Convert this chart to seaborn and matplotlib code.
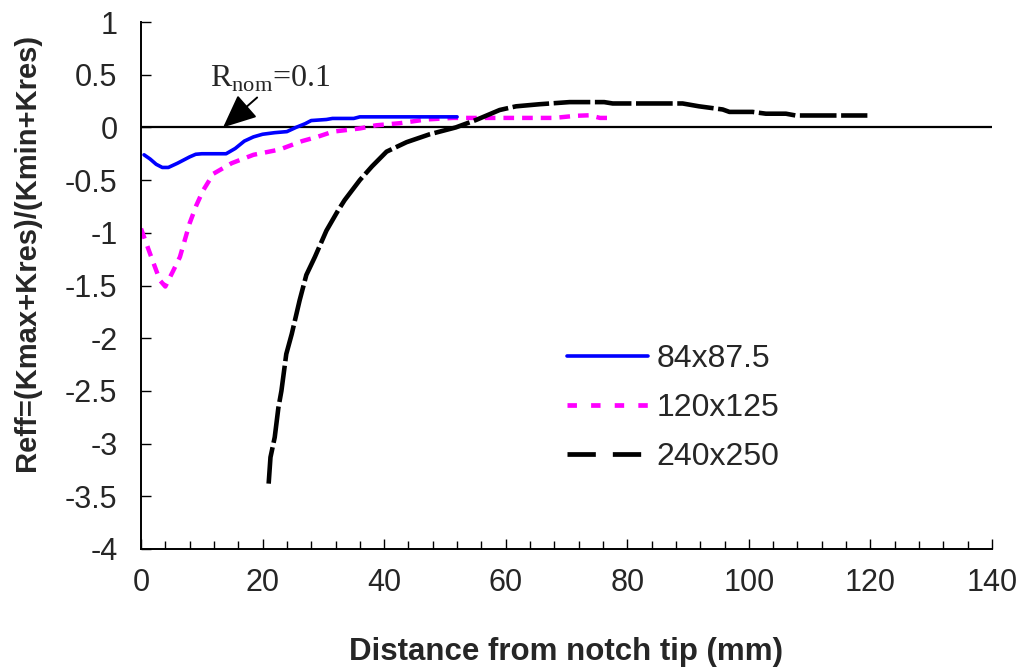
import matplotlib
matplotlib.use("Agg")
import matplotlib.pyplot as plt
from matplotlib.ticker import MultipleLocator, FormatStrFormatter
from matplotlib.lines import Line2D
import seaborn as sns
import pandas as pd

# ---- data ----
blue_x = [0.5, 1.5, 2.5, 3.5, 4.5, 6, 7, 8, 9, 10, 12, 14, 15.5, 17, 18.5, 20, 22, 24,
          25.5, 27, 28, 30.5, 31.5, 35, 36, 40, 45, 52]
blue_y = [-0.26, -0.30, -0.35, -0.38, -0.38, -0.34, -0.31, -0.28, -0.255, -0.25, -0.25,
          -0.25, -0.20, -0.13, -0.09, -0.065, -0.05, -0.04, 0.0, 0.035, 0.065, 0.075,
          0.085, 0.085, 0.10, 0.10, 0.10, 0.10]

mag_x = [0, 1.5, 3.1, 4.0, 5.3, 6.4, 7.2, 8.0, 9.1, 10.2, 11.9, 14.9, 18.5, 22.8, 26.5,
         29, 31.6, 36, 38.7, 42.6, 46.9, 51.3, 61.7, 68, 71.5, 73.8, 75.5, 77.3]
mag_y = [-0.96, -1.20, -1.45, -1.51, -1.36, -1.23, -1.07, -0.91, -0.74, -0.60, -0.44,
         -0.34, -0.26, -0.21, -0.13, -0.09, -0.04, -0.01, 0.02, 0.04, 0.075, 0.09, 0.09,
         0.09, 0.11, 0.115, 0.09, 0.09]

blk_x = [21.0, 21.3, 22.0, 22.6, 23.1, 23.9, 24.8, 26.1, 27.2, 28.6, 30.5, 32.4, 33.5,
         36, 38, 40.4, 43.7, 47.5, 51.8, 55.1, 59, 61.7, 65.6, 70.5, 76.2, 77.6, 89.1,
         91.8, 95.7, 96.8, 100.6, 102.8, 106.1, 107.7, 119.5]
blk_y = [-3.38, -3.13, -2.94, -2.66, -2.50, -2.15, -1.96, -1.64, -1.40, -1.23, -0.98,
         -0.79, -0.69, -0.50, -0.37, -0.23, -0.14, -0.065, 0.0, 0.07, 0.165, 0.20, 0.22,
         0.24, 0.24, 0.227, 0.227, 0.20, 0.17, 0.147, 0.147, 0.13, 0.13, 0.113, 0.113]

labels = ["84x87.5", "120x125", "240x250"]
x_ticks = [0, 20, 40, 60, 80, 100, 120, 140]
y_ticks = [-4, -3.5, -3, -2.5, -2, -1.5, -1, -0.5, 0, 0.5, 1]
r_nom_text = r"R$_{\mathrm{nom}}$=0.1"

# ---- style ----
sns.set_style("ticks")
plt.rcParams["font.family"] = ["Liberation Sans", "DejaVu Sans"]
plt.rcParams["axes.unicode_minus"] = False
plt.rcParams["mathtext.fontset"] = "custom"
plt.rcParams["mathtext.rm"] = "Liberation Serif"

fig = plt.figure(figsize=(10.21, 6.70), dpi=100)
W, H = 1021, 670
L, R, T, B = 141, 992, 22, 549
ax = fig.add_axes([L / W, 1 - B / H, (R - L) / W, (B - T) / H])

df_b = pd.DataFrame({"x": blue_x, "y": blue_y})
df_m = pd.DataFrame({"x": mag_x, "y": mag_y})
df_k = pd.DataFrame({"x": blk_x, "y": blk_y})

ax.axhline(0, color="black", lw=1.6, zorder=1)

sns.lineplot(data=df_b, x="x", y="y", ax=ax, color="#0000FF", lw=2.6,
             sort=False, estimator=None, zorder=3)
sns.lineplot(data=df_m, x="x", y="y", ax=ax, color="#FF00FF", lw=3.2,
             sort=False, estimator=None, zorder=2)
sns.lineplot(data=df_k, x="x", y="y", ax=ax, color="black", lw=3.3,
             sort=False, estimator=None, zorder=4)
lines = [l for l in ax.lines][1:]
lines[1].set_dashes((2.4, 1.8))
lines[2].set_dashes((8, 1.0))

ax.set_xlim(0, 140)
ax.set_ylim(-4, 1)
ax.set_xticks(x_ticks)
ax.xaxis.set_minor_locator(MultipleLocator(4))
ax.set_yticks(y_ticks)
ax.yaxis.set_major_formatter(FormatStrFormatter("%g"))
ax.tick_params(axis="both", which="major", direction="in", length=7.5, width=1.0,
               labelsize=22, pad=14, color="black")
ax.tick_params(axis="x", which="minor", direction="in", length=6, width=1.0,
               color="black")
ax.tick_params(axis="y", pad=17)
for s in ["top", "right"]:
    ax.spines[s].set_visible(False)
for s in ["left", "bottom"]:
    ax.spines[s].set_linewidth(1.4)
    ax.spines[s].set_color("black")
ax.set_xlabel("")
ax.set_ylabel("")

fig.text(566 / W, 1 - 652 / H, "Distance from notch tip (mm)", ha="center",
         va="center", fontsize=22.5, fontweight="bold")
fig.text(27 / W, 1 - 252 / H, "Reff=(Kmax+Kres)/(Kmin+Kres)", ha="center",
         va="center", rotation=90, fontsize=21, fontweight="bold")

ax.annotate(r_nom_text, xy=(13.5, 0.0), xytext=(11.4, 0.385),
            fontsize=23, family="Liberation Serif", ha="left", va="baseline",
            arrowprops=dict(arrowstyle="-|>,head_length=0.9,head_width=0.4",
                            color="black", lw=1.4, shrinkA=0, shrinkB=0,
                            relpos=(0.42, 0.0)))

handles = [
    Line2D([], [], color="#0000FF", lw=2.6),
    Line2D([], [], color="#FF00FF", lw=3.4, dashes=(2.0, 3.0)),
    Line2D([], [], color="black", lw=3.4, dashes=(6.0, 3.6)),
]
leg = ax.legend(handles, labels, loc="upper left",
                bbox_to_anchor=(567 / W, 1 - 344 / H), bbox_transform=fig.transFigure,
                frameon=False, fontsize=23, handlelength=2.55, handletextpad=0.25,
                labelspacing=0.6, borderpad=0, borderaxespad=0)

fig.savefig("out.png", dpi=100)
